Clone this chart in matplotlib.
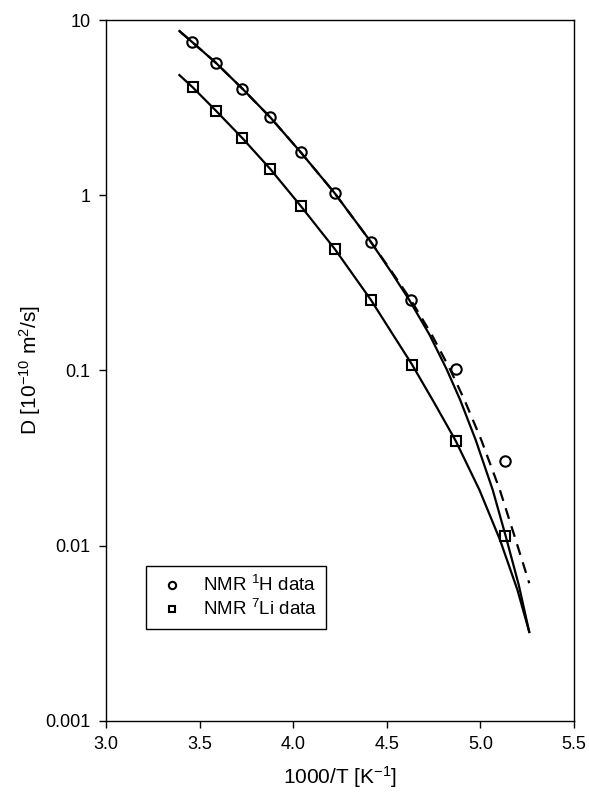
import numpy as np
import matplotlib
matplotlib.use('Agg')
from matplotlib import pyplot as plt

plt.rcParams['font.family']      = ['Liberation Sans', 'DejaVu Sans']
plt.rcParams['mathtext.default'] = 'regular'

# NMR data, x = 1000/T [1/K], D in 1e-10 m^2/s
x_H    = [3.458, 3.586, 3.728, 3.878, 4.040, 4.221, 4.414, 4.629, 4.868, 5.130]
D_H    = [7.52, 5.71, 4.06, 2.78, 1.76, 1.03, 0.543, 0.252, 0.102, 0.0305]
x_Li   = [3.463, 3.588, 3.728, 3.878, 4.040, 4.223, 4.416, 4.635, 4.868, 5.131]
D_Li   = [4.13, 3.03, 2.12, 1.41, 0.869, 0.492, 0.252, 0.108, 0.0397, 0.0114]

# fitted curves
fit_H_x      = [3.392, 3.458, 3.586, 3.728, 3.878, 4.040, 4.221, 4.414, 4.520,
                4.620, 4.729, 4.819, 4.892, 4.975, 5.066, 5.135, 5.205, 5.261]
fit_H_D      = [8.65, 7.52, 5.71, 4.06, 2.78, 1.76, 1.03, 0.543, 0.3697,
                0.2525, 0.1594, 0.102, 0.0679, 0.0401, 0.0208, 0.01137,
                0.00597, 0.00322]
fit_H2_x     = [3.392, 3.458, 3.586, 3.728, 3.878, 4.040, 4.221, 4.414, 4.524,
                4.629, 4.741, 4.837, 4.915, 5.005, 5.104, 5.182, 5.261]
fit_H2_D     = [8.65, 7.52, 5.71, 4.06, 2.78, 1.76, 1.03, 0.543, 0.3697,
                0.2525, 0.1594, 0.102, 0.0679, 0.0401, 0.0208, 0.01137,
                0.00611]
fit_Li_x     = [3.392, 3.463, 3.588, 3.728, 3.878, 4.040, 4.223, 4.416, 4.524,
                4.635, 4.751, 4.868, 4.995, 5.105, 5.198, 5.261]
fit_Li_D     = [4.85, 4.13, 3.03, 2.12, 1.41, 0.869, 0.492, 0.252, 0.1658,
                0.108, 0.0661, 0.0397, 0.0208, 0.01078, 0.00559, 0.00322]

x_ticks      = [3.0, 3.5, 4.0, 4.5, 5.0, 5.5]
y_ticks      = [0.001, 0.01, 0.1, 1, 10]
y_ticklabels = ['0.001', '0.01', '0.1', '1', '10']

fig = plt.figure(figsize=(5.89, 7.94), dpi=100)
ax  = fig.add_axes([0.18, 0.092, 0.7945, 0.8828])

ax.plot(fit_H_x, fit_H_D, color='k', linewidth=1.6, linestyle='-')
ax.plot(fit_H2_x, fit_H2_D, color='k', linewidth=1.6, linestyle=(0, (5, 3.5)))
ax.plot(fit_Li_x, fit_Li_D, color='k', linewidth=1.6, linestyle='-')

ax.plot(x_H, D_H,
        linestyle       = 'none',
        marker          = 'o',
        markersize      = 7.5,
        markerfacecolor = 'none',
        markeredgecolor = 'k',
        markeredgewidth = 1.5,
        label           = 'NMR $^{1}$H data')
ax.plot(x_Li, D_Li,
        linestyle       = 'none',
        marker          = 's',
        markersize      = 6.5,
        markerfacecolor = 'none',
        markeredgecolor = 'k',
        markeredgewidth = 1.5,
        label           = 'NMR $^{7}$Li data')

ax.set_yscale('log')
ax.set_xlim(3.0, 5.5)
ax.set_ylim(0.001, 10)
ax.set_xticks(x_ticks)
ax.set_xticklabels(['%.1f' % t for t in x_ticks])
ax.set_yticks(y_ticks)
ax.set_yticklabels(y_ticklabels)
ax.minorticks_off()
ax.tick_params(direction='out', length=5, width=1, labelsize=13, pad=6,
               top=False, right=False)
for s in ax.spines.values():
    s.set_linewidth(1.0)

ax.set_xlabel('1000/T [K$^{-1}$]', fontsize=15)
ax.set_ylabel('D [10$^{-10}$ m$^{2}$/s]', fontsize=15)
ax.xaxis.set_label_coords(0.5, -0.062)
ax.yaxis.set_label_coords(-0.135, 0.5)

leg = ax.legend(loc='upper left', bbox_to_anchor=(0.0848, 0.2215),
                borderaxespad=0, fontsize=13.5, markerscale=0.7,
                handlelength=1.8, handletextpad=0.75, borderpad=0.5,
                labelspacing=0.22, fancybox=False, framealpha=1)
leg.get_frame().set_edgecolor('k')
leg.get_frame().set_linewidth(1.0)

fig.savefig('out.png', dpi=100)
